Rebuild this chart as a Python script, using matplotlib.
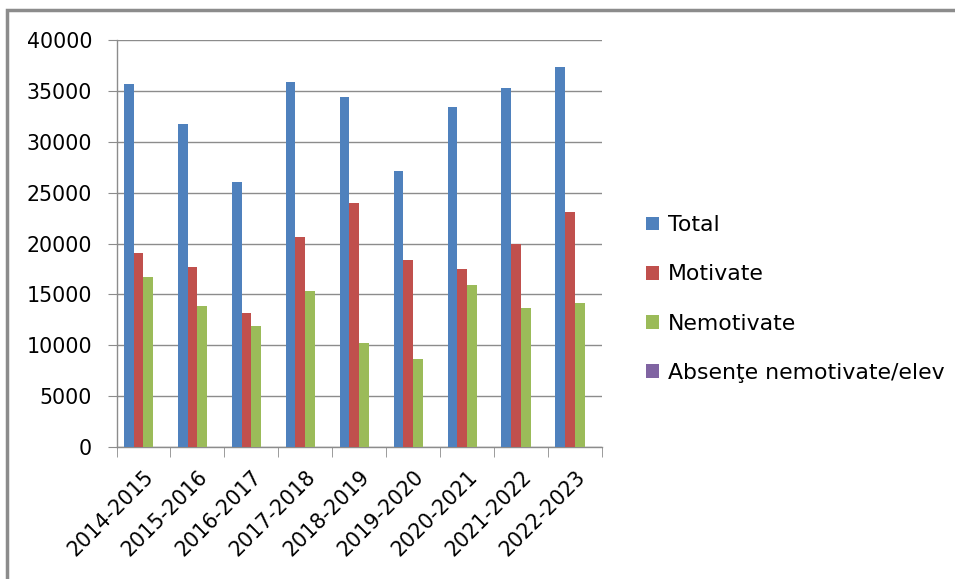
import matplotlib.pyplot as plt
import numpy as np
from matplotlib.patches import Rectangle

years = ['2014-2015', '2015-2016', '2016-2017', '2017-2018', '2018-2019',
         '2019-2020', '2020-2021', '2021-2022', '2022-2023']
total = [35700, 31700, 26000, 35850, 34350, 27150, 33450, 35250, 37350]
motivate = [19100, 17700, 13150, 20600, 24000, 18350, 17450, 19950, 23100]
nemotivate = [16700, 13900, 11900, 15300, 10250, 8600, 15950, 13650, 14150]
absente_elev = [20, 18, 15, 19, 12, 10, 18, 16, 17]   # too small to see

series = [
    ('Total', total, '#4F81BD'),
    ('Motivate', motivate, '#C0504D'),
    ('Nemotivate', nemotivate, '#9BBB59'),
    ('Absenţe nemotivate/elev', absente_elev, '#8064A2'),
]

plt.rcParams['font.family'] = ['DejaVu Sans']
FS = 14.8

fig = plt.figure(figsize=(9.55, 5.79), dpi=100)
ax = fig.add_axes([116.5 / 955, 1 - 447 / 579, 485.5 / 955, 407 / 579])

# chart-area border (top and left visible)
fig.patches.append(Rectangle((6.5 / 955, -0.1), 2, 1.1 - 10 / 579,
                             transform=fig.transFigure, fill=False,
                             edgecolor='#8c8c8c', linewidth=2.5))

x = np.arange(len(years))
w = 1 / 5.5
for i, (name, vals, col) in enumerate(series):
    ax.bar(x + (i - 1.5) * w, vals, width=w, color=col, label=name, zorder=3)

ax.set_xlim(-0.5, len(years) - 0.5)
ax.set_ylim(0, 40000)
ax.set_yticks(np.arange(0, 40001, 5000))
ax.yaxis.grid(True, color='#8c8c8c', linewidth=1, zorder=0)
ax.tick_params(axis='y', labelsize=FS, length=6.5, color='#8c8c8c', pad=11)

ax.set_xticks(x)
ax.set_xticklabels(years, rotation=45, ha='right', va='top',
                   rotation_mode='anchor', fontsize=FS)
ax.tick_params(axis='x', which='major', length=0, pad=14)
ax.set_xticks(np.arange(-0.5, len(years)), minor=True)
ax.tick_params(axis='x', which='minor', length=7, color='#8c8c8c')

for s in ['top', 'right']:
    ax.spines[s].set_visible(False)
for s in ['left', 'bottom']:
    ax.spines[s].set_color('#8c8c8c')
    ax.spines[s].set_linewidth(1)

ax.legend(loc='center left', bbox_to_anchor=(646 / 955, 1 - 299 / 579),
          bbox_transform=fig.transFigure, frameon=False, fontsize=15.8,
          handlelength=0.6, handleheight=0.6, handletextpad=0.4,
          labelspacing=1.33, borderpad=0, borderaxespad=0)

fig.savefig('out.png', dpi=100)
